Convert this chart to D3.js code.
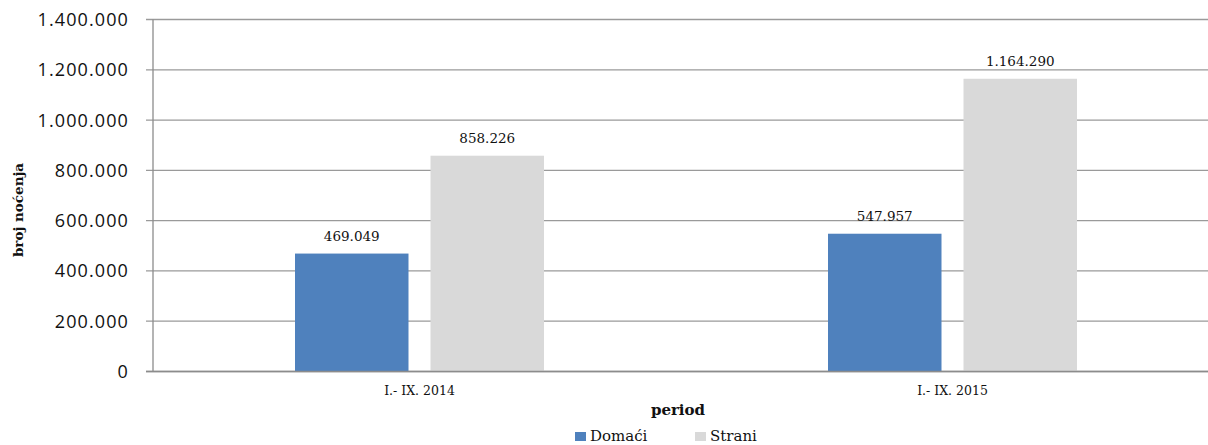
<!DOCTYPE html>
<html>
<head>
<meta charset="utf-8">
<script src="https://cdn.jsdelivr.net/npm/d3@7"></script>
<style>
  body { margin: 0; background: #fff; }
  svg { display: block; }
</style>
</head>
<body>
<svg id="chart"></svg>
<script>
"use strict";

const periods = ['I.- IX. 2014', 'I.- IX. 2015'];
const seriesNames = ['Domaći', 'Strani'];
const domaci = [469049, 547957];
const strani = [858226, 1164290];
const yTicks = [0, 200000, 400000, 600000, 800000, 1000000, 1200000, 1400000];

const W = 1208, H = 445;
const plotLeft = 153, plotRight = 1219, plotTop = 19.5, plotBottom = 371.5;
const colors = { 'Domaći': '#4f81bd', 'Strani': '#d9d9d9' };
const serif = '"DejaVu Serif", serif';

const fmt = v => d3.format(',')(v).replace(/,/g, '.');

const svg = d3.select('#chart').attr('width', W).attr('height', H);

const x0 = d3.scaleBand().domain(periods).range([plotLeft, plotRight]);
const x1 = d3.scaleBand().domain(seriesNames)
  .range([0, x0.bandwidth()])
  .paddingInner(0.1624)
  .paddingOuter(1.048);
const y = d3.scaleLinear().domain([0, 1400000]).range([plotBottom, plotTop]);

// grid
svg.append('g')
  .selectAll('line')
  .data(yTicks)
  .join('line')
  .attr('x1', plotLeft - 7)
  .attr('x2', W)
  .attr('y1', d => y(d))
  .attr('y2', d => y(d))
  .attr('stroke', '#9a9a9a')
  .attr('stroke-width', 1.3);

// y axis labels
svg.append('g')
  .selectAll('text')
  .data(yTicks)
  .join('text')
  .attr('x', 129)
  .attr('y', d => y(d))
  .attr('dy', '0.36em')
  .attr('text-anchor', 'end')
  .attr('font-family', '"Open Sans", sans-serif')
  .attr('font-size', 18)
  .attr('letter-spacing', 1.1)
  .attr('fill', '#111')
  .text(d => fmt(d));

// bars
const rows = periods.map((p, i) => ({ period: p, values: [
  { name: 'Domaći', value: domaci[i] },
  { name: 'Strani', value: strani[i] }
]}));

const groups = svg.append('g')
  .selectAll('g')
  .data(rows)
  .join('g')
  .attr('transform', d => `translate(${x0(d.period)},0)`);

groups.selectAll('rect')
  .data(d => d.values)
  .join('rect')
  .attr('x', d => x1(d.name))
  .attr('y', d => y(d.value))
  .attr('width', x1.bandwidth())
  .attr('height', d => y(0) - y(d.value))
  .attr('fill', d => colors[d.name]);

groups.selectAll('text')
  .data(d => d.values)
  .join('text')
  .attr('x', d => x1(d.name) + x1.bandwidth() / 2)
  .attr('y', d => y(d.value) - 13)
  .attr('text-anchor', 'middle')
  .attr('font-family', serif)
  .attr('font-size', 13.5)
  .attr('fill', '#111')
  .text(d => fmt(d.value));

// axis lines
svg.append('line')
  .attr('x1', plotLeft).attr('x2', plotLeft)
  .attr('y1', plotTop).attr('y2', plotBottom)
  .attr('stroke', '#8c8c8c').attr('stroke-width', 1.3);
svg.append('line')
  .attr('x1', plotLeft - 7).attr('x2', W)
  .attr('y1', plotBottom).attr('y2', plotBottom)
  .attr('stroke', '#8c8c8c').attr('stroke-width', 1.3);

// category labels
svg.append('g')
  .selectAll('text')
  .data(periods)
  .join('text')
  .attr('x', d => x0(d) + x0.bandwidth() / 2)
  .attr('y', 395)
  .attr('text-anchor', 'middle')
  .attr('font-family', serif)
  .attr('font-size', 12.5)
  .attr('fill', '#111')
  .text(d => d);

// axis titles
svg.append('text')
  .attr('x', 678)
  .attr('y', 415)
  .attr('text-anchor', 'middle')
  .attr('font-family', serif)
  .attr('font-weight', 'bold')
  .attr('font-size', 15)
  .attr('fill', '#111')
  .text('period');

svg.append('text')
  .attr('transform', 'translate(23,210) rotate(-90)')
  .attr('text-anchor', 'middle')
  .attr('font-family', serif)
  .attr('font-weight', 'bold')
  .attr('font-size', 13.5)
  .attr('fill', '#111')
  .text('broj noćenja');

// legend
const legendX = [575, 695];
const legend = svg.append('g')
  .selectAll('g')
  .data(seriesNames)
  .join('g')
  .attr('transform', (d, i) => `translate(${legendX[i]},432)`);

legend.append('rect')
  .attr('width', 11)
  .attr('height', 9)
  .attr('fill', d => colors[d]);

legend.append('text')
  .attr('x', 15)
  .attr('y', 9)
  .attr('font-family', serif)
  .attr('font-size', 15)
  .attr('fill', '#111')
  .text(d => d);
</script>
</body>
</html>
